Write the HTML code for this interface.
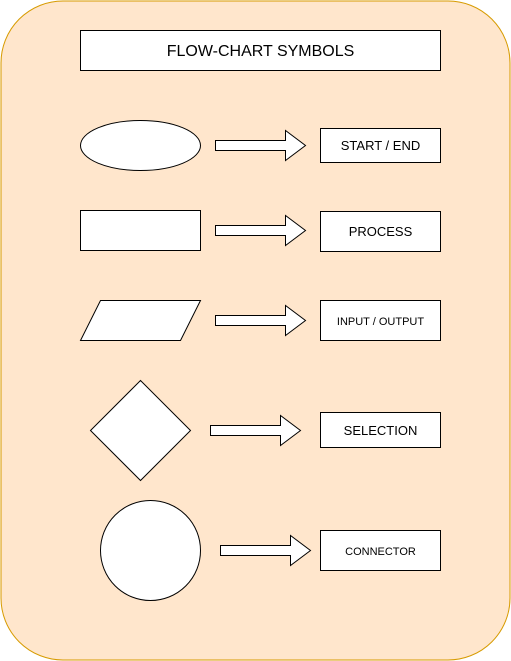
<!DOCTYPE html>
<html><head><meta charset="utf-8"><style>
html,body{margin:0;padding:0;background:#fff;}
svg{display:block;font-family:"Liberation Sans",Arial,sans-serif;}
</style></head><body>
<svg width="511" height="661" viewBox="0 0 511 661">
<rect x="1" y="1" width="509" height="659" rx="62" ry="62" fill="#FFE6CC" stroke="#D79B00" stroke-width="1"/>
<g stroke="#000" stroke-width="1" fill="#fff">
<rect x="80.5" y="30.5" width="360" height="40"/>
<ellipse cx="140.5" cy="145.5" rx="60" ry="25"/>
<polygon points="215.5,140.5 285.5,140.5 285.5,130.5 305.5,145.5 285.5,160.5 285.5,150.5 215.5,150.5"/>
<rect x="320.5" y="128.5" width="120" height="34"/>
<rect x="80.5" y="210.5" width="120" height="40"/>
<polygon points="215.5,225.5 285.5,225.5 285.5,215.5 305.5,230.5 285.5,245.5 285.5,235.5 215.5,235.5"/>
<rect x="320.5" y="211.5" width="120" height="40"/>
<polygon points="100.5,300.5 200.5,300.5 180.5,340.5 80.5,340.5"/>
<polygon points="215.5,315.5 285.5,315.5 285.5,305.5 305.5,320.5 285.5,335.5 285.5,325.5 215.5,325.5"/>
<rect x="320.5" y="300.5" width="120" height="40"/>
<polygon points="140.5,380.5 190.5,430.5 140.5,480.5 90.5,430.5"/>
<polygon points="210.5,425.5 280.5,425.5 280.5,415.5 300.5,430.5 280.5,445.5 280.5,435.5 210.5,435.5"/>
<rect x="320.5" y="412.5" width="120" height="35"/>
<circle cx="150.5" cy="550.5" r="50"/>
<polygon points="220.5,545.5 290.5,545.5 290.5,535.5 310.5,550.5 290.5,565.5 290.5,555.5 220.5,555.5"/>
<rect x="320.5" y="530.5" width="120" height="40"/>
</g>
<g fill="#000" text-anchor="middle">
<text x="260.5" y="56" font-size="16">FLOW-CHART SYMBOLS</text>
<text x="380.5" y="150" font-size="13">START / END</text>
<text x="380.5" y="236" font-size="13">PROCESS</text>
<text x="380.5" y="325" font-size="11">INPUT / OUTPUT</text>
<text x="380.5" y="435" font-size="13">SELECTION</text>
<text x="380.5" y="555" font-size="11">CONNECTOR</text>
</g>
</svg>
</body></html>
